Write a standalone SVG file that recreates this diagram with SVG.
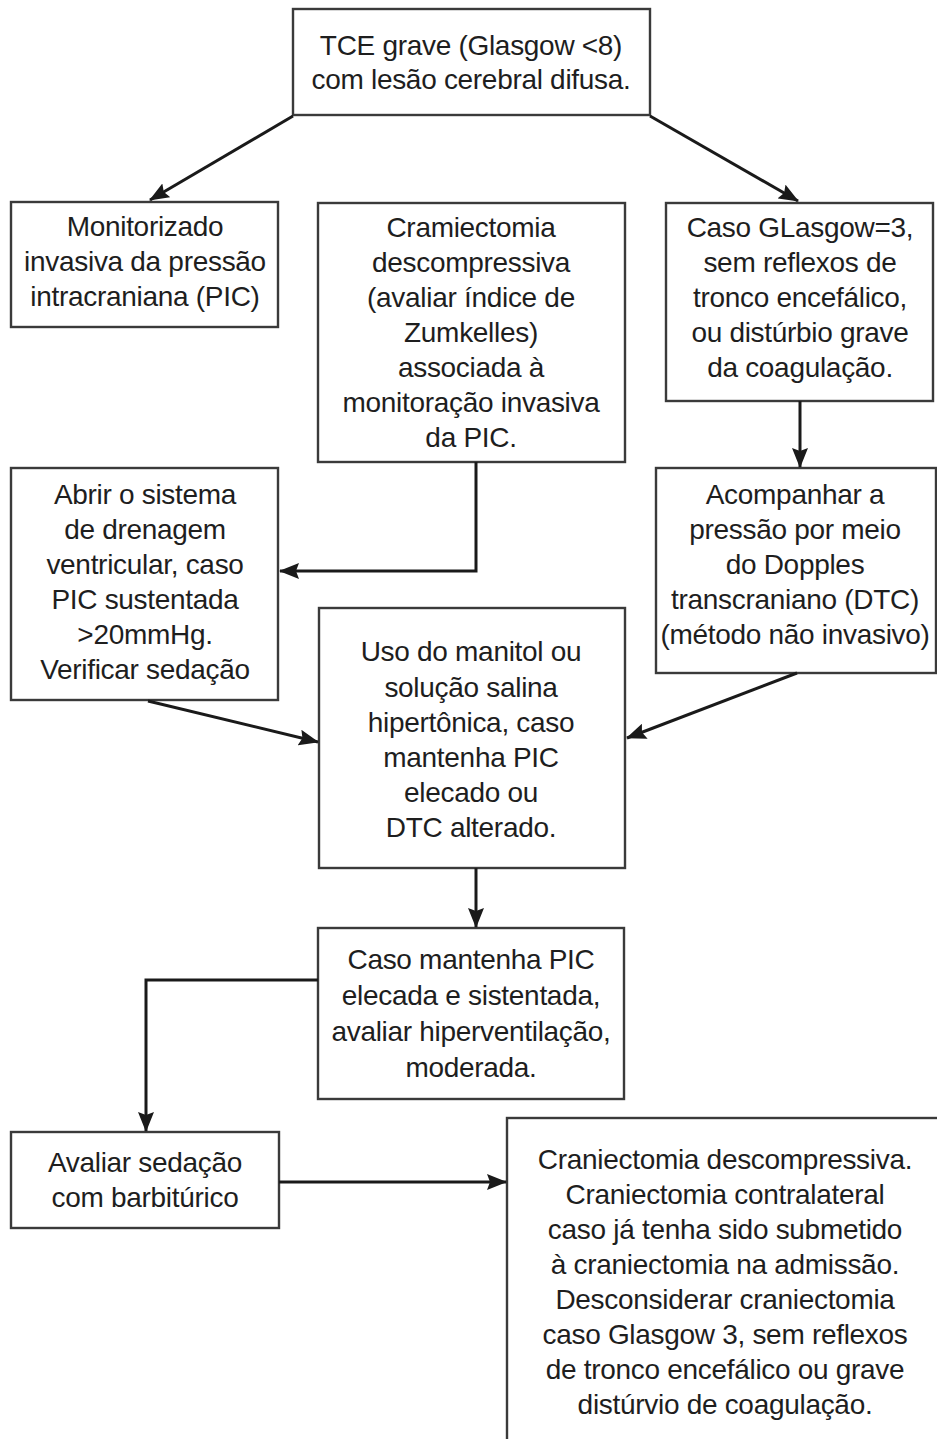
<svg xmlns="http://www.w3.org/2000/svg" width="937" height="1439" viewBox="0 0 937 1439">
<defs>
<marker id="ah" markerWidth="20" markerHeight="16" refX="19" refY="8" orient="auto" markerUnits="userSpaceOnUse">
<path d="M0,0 L20,8 L0,16 L3,8 Z" fill="#1a1a1a"/>
</marker>
<style>
.box{fill:#fff;stroke:#3a3a3a;stroke-width:2.4}
.t{font-family:"Liberation Sans",Arial,sans-serif;font-size:28px;letter-spacing:-0.3px;fill:#1e1e1e;text-anchor:middle}
.c{fill:none;stroke:#1a1a1a;stroke-width:3;marker-end:url(#ah)}
</style>
</defs>
<rect width="937" height="1439" fill="#fff"/>
<g id="n1">
<rect class="box" x="293" y="9" width="357" height="106"/>
<text class="t" x="471" y="55">TCE grave (Glasgow &lt;8)</text>
<text class="t" x="471" y="89">com lesão cerebral difusa.</text>
</g>
<g id="n2">
<rect class="box" x="11" y="202" width="267" height="125"/>
<text class="t" x="145" y="236">Monitorizado</text>
<text class="t" x="145" y="271">invasiva da pressão</text>
<text class="t" x="145" y="306">intracraniana (PIC)</text>
</g>
<g id="n3">
<rect class="box" x="318" y="203" width="307" height="259"/>
<text class="t" x="471" y="237">Cramiectomia</text>
<text class="t" x="471" y="272">descompressiva</text>
<text class="t" x="471" y="307">(avaliar índice de</text>
<text class="t" x="471" y="342">Zumkelles)</text>
<text class="t" x="471" y="377">associada à</text>
<text class="t" x="471" y="412">monitoração invasiva</text>
<text class="t" x="471" y="447">da PIC.</text>
</g>
<g id="n4">
<rect class="box" x="666" y="203" width="267" height="198"/>
<text class="t" x="800" y="237">Caso GLasgow=3,</text>
<text class="t" x="800" y="272">sem reflexos de</text>
<text class="t" x="800" y="307">tronco encefálico,</text>
<text class="t" x="800" y="342">ou distúrbio grave</text>
<text class="t" x="800" y="377">da coagulação.</text>
</g>
<g id="n5">
<rect class="box" x="11" y="468" width="267" height="232"/>
<text class="t" x="145" y="504">Abrir o sistema</text>
<text class="t" x="145" y="539">de drenagem</text>
<text class="t" x="145" y="574">ventricular, caso</text>
<text class="t" x="145" y="609">PIC sustentada</text>
<text class="t" x="145" y="644">&gt;20mmHg.</text>
<text class="t" x="145" y="679">Verificar sedação</text>
</g>
<g id="n6">
<rect class="box" x="656" y="468" width="280" height="205"/>
<text class="t" x="795" y="504">Acompanhar a</text>
<text class="t" x="795" y="539">pressão por meio</text>
<text class="t" x="795" y="574">do Dopples</text>
<text class="t" x="795" y="609">transcraniano (DTC)</text>
<text class="t" x="795" y="644">(método não invasivo)</text>
</g>
<g id="n7">
<rect class="box" x="319" y="608" width="306" height="260"/>
<text class="t" x="471" y="661">Uso do manitol ou</text>
<text class="t" x="471" y="697">solução salina</text>
<text class="t" x="471" y="732">hipertônica, caso</text>
<text class="t" x="471" y="767">mantenha PIC</text>
<text class="t" x="471" y="802">elecado ou</text>
<text class="t" x="471" y="837">DTC alterado.</text>
</g>
<g id="n8">
<rect class="box" x="318" y="928" width="306" height="171"/>
<text class="t" x="471" y="969">Caso mantenha PIC</text>
<text class="t" x="471" y="1005">elecada e sistentada,</text>
<text class="t" x="471" y="1041">avaliar hiperventilação,</text>
<text class="t" x="471" y="1077">moderada.</text>
</g>
<g id="n9">
<rect class="box" x="11" y="1132" width="268" height="96"/>
<text class="t" x="145" y="1172">Avaliar sedação</text>
<text class="t" x="145" y="1207">com barbitúrico</text>
</g>
<g id="n10">
<rect class="box" x="507" y="1118" width="440" height="340"/>
<text class="t" x="725" y="1169">Craniectomia descompressiva.</text>
<text class="t" x="725" y="1204">Craniectomia contralateral</text>
<text class="t" x="725" y="1239">caso já tenha sido submetido</text>
<text class="t" x="725" y="1274">à craniectomia na admissão.</text>
<text class="t" x="725" y="1309">Desconsiderar craniectomia</text>
<text class="t" x="725" y="1344">caso Glasgow 3, sem reflexos</text>
<text class="t" x="725" y="1379">de tronco encefálico ou grave</text>
<text class="t" x="725" y="1414">distúrvio de coagulação.</text>
</g>
<g id="connectors">
<path class="c" d="M293,116 L150,200"/>
<path class="c" d="M650,116 L798,201"/>
<path class="c" d="M800,401 L800,467"/>
<path class="c" d="M476,462 L476,571 L280,571"/>
<path class="c" d="M148,701 L318,742"/>
<path class="c" d="M797,673 L627,738"/>
<path class="c" d="M476,868 L476,927"/>
<path class="c" d="M318,980 L146,980 L146,1131"/>
<path class="c" d="M279,1182 L506,1182"/>
</g>
</svg>
